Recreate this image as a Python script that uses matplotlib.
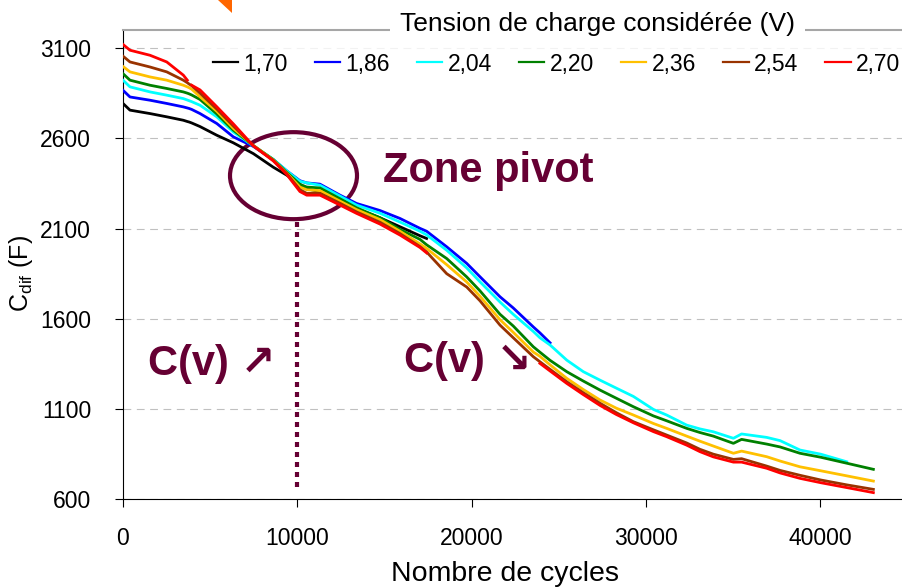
import numpy as np
import matplotlib.pyplot as plt
from matplotlib.patches import Ellipse, Polygon

plt.rcParams['font.family'] = ['Liberation Sans', 'DejaVu Sans']
plt.rcParams['mathtext.default'] = 'regular'

nan = np.nan

# nombre de cycles (abscisses communes)
cycles = [0, 400, 1550, 2510, 3460, 3690, 3800, 3940, 4420, 5380,
          6330, 7480, 8620, 9390, 10150, 10540, 11300, 12450, 13400, 14740,
          15890, 17040, 17420, 18570, 19720, 20480, 21630, 22390, 23540, 23920,
          24500, 25460, 26410, 27370, 28300, 29280, 30430, 31190, 32340, 33100,
          33870, 35020, 35490, 36930, 37700, 38840, 40030, 41520, 43050]

# capacite differentielle (F) pour chaque tension de charge
c_170 = [2793, 2756, 2737, 2719, 2700, 2693, 2690, 2685, 2665, 2617,
         2575, 2515, 2440, 2396, 2345, 2320, 2305, 2255, 2210, 2160,
         2110, 2060, 2045] + [nan] * 26
c_186 = [2866, 2829, 2811, 2793, 2774, 2768, 2765, 2760, 2737, 2682,
         2608, 2555, 2482, 2420, 2365, 2353, 2346, 2285, 2239, 2200,
         2156, 2101, 2085, 1999, 1907, 1833, 1722, 1660, 1555, 1522,
         1467] + [nan] * 18
c_204 = [2922, 2885, 2857, 2839, 2820, 2812, 2808, 2803, 2783, 2719,
         2635, 2558, 2484, 2420, 2362, 2353, 2340, 2280, 2230, 2185,
         2136, 2085, 2065, 1980, 1882, 1805, 1693, 1625, 1530, 1495,
         1455, 1371, 1307, 1260, 1216, 1170, 1098, 1067, 1011, 990,
         974, 938, 962, 943, 925, 873, 850, 808, nan]
c_220 = [2958, 2922, 2894, 2876, 2857, 2850, 2846, 2840, 2815, 2735,
         2645, 2560, 2482, 2412, 2345, 2330, 2325, 2265, 2215, 2160,
         2095, 2040, 2010, 1934, 1832, 1755, 1625, 1560, 1445, 1415,
         1370, 1307, 1255, 1205, 1160, 1113, 1062, 1035, 993, 970,
         950, 910, 932, 906, 890, 855, 833, 800, 766]
c_236 = [2998, 2968, 2940, 2922, 2894, 2885, 2880, 2872, 2830, 2750,
         2655, 2560, 2480, 2408, 2330, 2315, 2310, 2252, 2205, 2150,
         2085, 2015, 1990, 1900, 1804, 1725, 1595, 1525, 1416, 1392,
         1345, 1270, 1208, 1150, 1105, 1067, 1020, 993, 950, 922,
         895, 855, 867, 836, 812, 780, 758, 730, 701]
c_254 = [3055, 3023, 2995, 2968, 2922, 2908, 2900, 2892, 2850, 2762,
         2668, 2558, 2478, 2405, 2315, 2295, 2295, 2240, 2192, 2135,
         2072, 2000, 1970, 1850, 1776, 1700, 1565, 1495, 1390, 1362,
         1320, 1251, 1190, 1132, 1080, 1030, 985, 956, 912, 877,
         850, 821, 825, 784, 760, 733, 707, 680, 655]
c_270 = [3120, 3088, 3060, 3023, 2950, 2922, nan, 2894, 2868, 2775,
         2680, 2558, 2475, 2400, 2305, 2285, 2285, 2230, 2184, 2125,
         2064, 1995, 1965, nan, nan, nan, nan, nan, nan, 1353,
         1311, 1242, 1180, 1120, 1070, 1024, 975, 947, 900, 864,
         835, 806, 806, 772, 746, 716, 692, 665, 637]

tensions = ['1,70', '1,86', '2,04', '2,20', '2,36', '2,54', '2,70']
series = [c_170, c_186, c_204, c_220, c_236, c_254, c_270]
colors = ['#000000', '#0000ff', '#00ffff', '#008000', '#ffc000', '#993300', '#ff0000']

pivot = 10000
maroon = '#660033'

fig = plt.figure(figsize=(9.03, 5.87), dpi=100)
ax = fig.add_axes([123 / 903, 87.7 / 587, 780 / 903, 469.3 / 587])

for vals, col, lab in zip(series, colors, tensions):
    ax.plot(cycles, vals, color=col, lw=2.0, label=lab, zorder=4)

ax.set_xlim(0, 44750)
ax.set_ylim(600, 3200)
ax.set_xticks([0, 10000, 20000, 30000, 40000])
ax.set_yticks([600, 1100, 1600, 2100, 2600, 3100])
ax.tick_params(direction='out', length=6, width=0.8, labelsize=16.5)
ax.tick_params(axis='y', pad=17)
ax.tick_params(axis='x', pad=14)
ax.yaxis.grid(True, linestyle=(0, (7, 5)), color='#c0c0c0', lw=0.8)
ax.set_axisbelow(True)

ax.spines['right'].set_visible(False)
ax.spines['top'].set_visible(False)
ax.spines['left'].set_linewidth(0.8)
ax.spines['bottom'].set_linewidth(0.8)

ax.set_xlabel('Nombre de cycles', fontsize=20.5)
ax.xaxis.set_label_coords(0.49, -0.132)
ax.set_ylabel('C$_{dif}$ (F)', fontsize=18)
ax.yaxis.set_label_coords(-0.113, 0.482)

# zone pivot : ellipse + trait pointille
ax.add_patch(Ellipse((9782, 2393), width=7286, height=482, fill=False,
                     ec=maroon, lw=3, zorder=3))
ax.plot([pivot, pivot], [669, 2152], color=maroon, lw=3,
        linestyle=(0, (1.2, 1.2)), dash_capstyle='butt', zorder=3)

ax.text(14917, 2357, 'Zone pivot', fontsize=30, fontweight='bold',
        color=maroon, ha='left', va='baseline')
ax.text(1434, 1288, 'C(v) \u2197', fontsize=30, fontweight='bold',
        color=maroon, ha='left', va='baseline')
ax.text(16150, 1306, 'C(v) \u2198', fontsize=30, fontweight='bold',
        color=maroon, ha='left', va='baseline')

# legende sous les courbes (fond blanc qui masque seulement la grille)
leg = ax.legend(loc='center left', bbox_to_anchor=(190 / 903, 523 / 587),
                bbox_transform=fig.transFigure, ncol=7, fontsize=16.5,
                frameon=True, fancybox=False, borderpad=1.0, borderaxespad=0,
                handlelength=1.1, handletextpad=0.22, columnspacing=1.2)
leg.get_frame().set_edgecolor('none')
leg.get_frame().set_facecolor('white')
leg.set_zorder(3.5)
for h in leg.get_lines():
    h.set_linewidth(1.6)

# bordure haute grise avec le titre de la legende
ax.plot([0, 1], [1, 1], transform=ax.transAxes, color='#a6a6a6', lw=1.5,
        clip_on=False, zorder=10)
ax.text(0.608, 0.998, 'Tension de charge considérée (V)', transform=ax.transAxes,
        fontsize=19, ha='center', va='baseline', zorder=11,
        bbox=dict(fc='white', ec='none', pad=7))

# pointe de fleche orange en haut
fig.patches.append(Polygon([(218 / 903, 1.0), (232 / 903, 1.0), (232 / 903, 574 / 587)],
                           closed=True, transform=fig.transFigure, fc='#ff6600', ec='none'))

fig.savefig('out.png', dpi=100)
